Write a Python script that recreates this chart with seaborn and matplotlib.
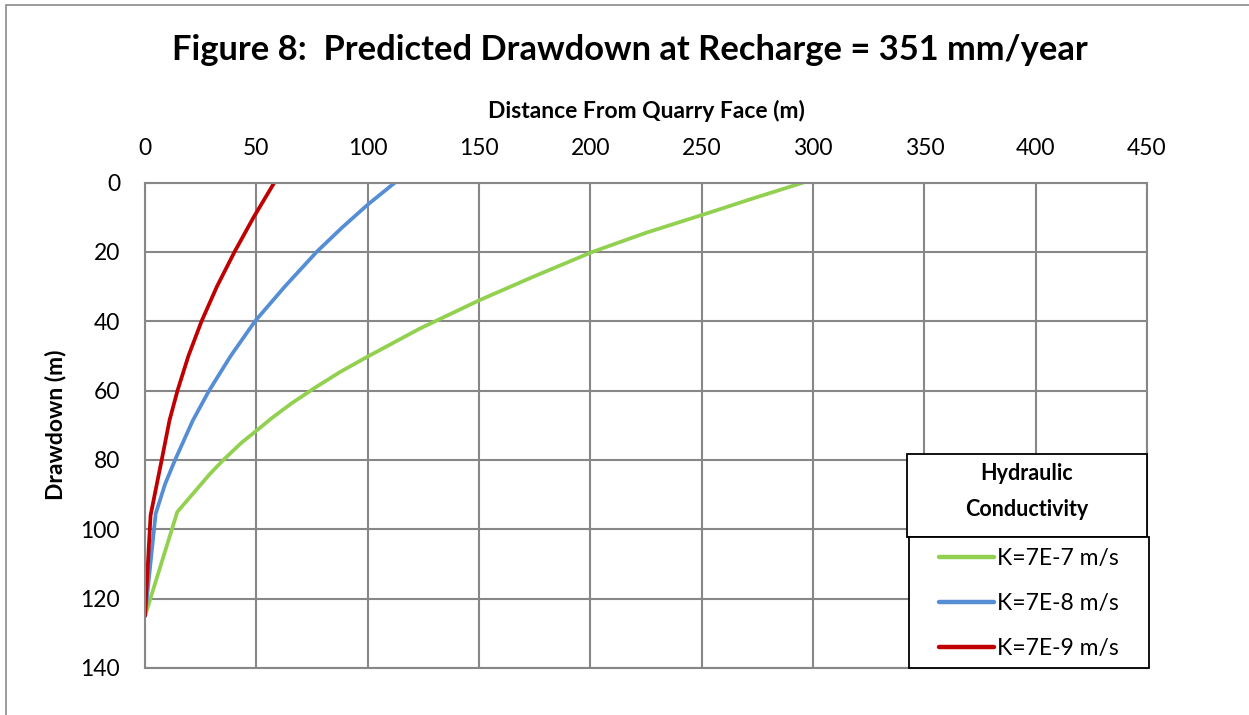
import matplotlib
matplotlib.use("Agg")
import matplotlib.pyplot as plt
from matplotlib.patches import Rectangle
import seaborn as sns
import pandas as pd

# ---- data ----
green_x = [0, 14.5, 29.2, 35.2, 43.4, 50, 57, 66, 77, 88, 100, 123.5, 150, 175, 201, 225, 250, 273, 295.7]
green_y = [125, 95, 84, 80, 75, 71.6, 67.9, 63.6, 58.9, 54.5, 50.2, 42.1, 34, 27, 20, 14.5, 9.4, 4.6, 0]
blue_x = [0, 4.8, 9, 13.5, 21.5, 28.8, 38.5, 49.4, 62.8, 77.1, 88.5, 100, 112.3]
blue_y = [125, 95.5, 87, 80, 68.6, 60, 50, 40, 30, 20, 13, 6.4, 0]
red_x = [0, 2.5, 5.3, 7.5, 11, 14.6, 19.5, 25.4, 32.3, 40.2, 48.8, 58.1]
red_y = [125, 96, 87, 80, 68.6, 60, 50, 40, 30, 20, 10, 0]
series_names = ["K=7E-7 m/s", "K=7E-8 m/s", "K=7E-9 m/s"]
series_colors = ["#92D050", "#558ED5", "#C00000"]
x_ticks = [0, 50, 100, 150, 200, 250, 300, 350, 400, 450]
y_ticks = [0, 20, 40, 60, 80, 100, 120, 140]

title = "Figure 8:  Predicted Drawdown at Recharge = 351 mm/year"
x_label = "Distance From Quarry Face (m)"
y_label = "Drawdown (m)"
legend_title = "Hydraulic\nConductivity"

frames = []
for name, xs, ys in zip(series_names, [green_x, blue_x, red_x], [green_y, blue_y, red_y]):
    frames.append(pd.DataFrame({"x": xs, "y": ys, "series": name}))
df = pd.concat(frames, ignore_index=True)

sns.set_theme(style="white")
plt.rcParams["font.family"] = ["Lato", "DejaVu Sans"]
plt.rcParams["text.color"] = "black"
plt.rcParams["axes.labelcolor"] = "black"

fig = plt.figure(figsize=(12.49, 7.15), dpi=100)
ax = fig.add_axes([145 / 1249, 1 - 668 / 715, (1147 - 145) / 1249, (668 - 182.5) / 715])

sns.lineplot(data=df, x="x", y="y", hue="series", palette=dict(zip(series_names, series_colors)),
             sort=False, estimator=None, linewidth=2.7, ax=ax, legend=False)

ax.set_xlim(0, 450)
ax.set_ylim(140, 0)
ax.set_xticks(x_ticks)
ax.set_yticks(y_ticks)
ax.xaxis.tick_top()
ax.xaxis.set_label_position("top")
ax.tick_params(axis="both", length=0, labelsize=16.5, colors="black")
ax.tick_params(axis="x", pad=17)
ax.tick_params(axis="y", pad=18)
ax.grid(True, color="#878787", linewidth=1.5)
for s in ax.spines.values():
    s.set_color("#878787")
    s.set_linewidth(1.5)
ax.set_xlabel(x_label, fontsize=16.5, fontweight="bold", labelpad=14)
ax.set_ylabel(y_label, fontsize=16.5, fontweight="bold", labelpad=10)

fig.text(630 / 1249, 1 - 50 / 715, title, ha="center", va="center", fontsize=24.8, fontweight="bold")

# legend: title box + entries box
x0 = (907 - 145) / 1002
ax.add_patch(Rectangle((x0, 0.270), 1.0 - x0, 0.4406 - 0.270, transform=ax.transAxes,
                       facecolor="white", edgecolor="black", linewidth=1.3, clip_on=False, zorder=5))
ax.add_patch(Rectangle((x0 + 0.002, 0.0), 1.0 - x0, 0.270, transform=ax.transAxes,
                       facecolor="white", edgecolor="black", linewidth=1.3, clip_on=False, zorder=5))
ax.text((x0 + 1.0) / 2, (0.270 + 0.4406) / 2 + 0.008, legend_title, transform=ax.transAxes, ha="center",
        va="center", fontsize=15.5, fontweight="bold", zorder=6, linespacing=1.85)
handles = [plt.Line2D([], [], color=c, linewidth=3.2) for c in series_colors]
leg = ax.legend(handles, series_names, loc="center", bbox_to_anchor=((x0 + 1.0) / 2 + 0.002, 0.133),
                bbox_transform=ax.transAxes, frameon=False, fontsize=16.5, handlelength=2.4,
                handletextpad=0.12, labelspacing=1.03)
leg.set_zorder(7)

fig.patches.append(Rectangle((6 / 1249, -0.01), 1.2, 1 - 5 / 715 + 0.01, transform=fig.transFigure,
                             facecolor="none", edgecolor="#8a8a8a", linewidth=1.2))

fig.savefig("out.png", dpi=100)
